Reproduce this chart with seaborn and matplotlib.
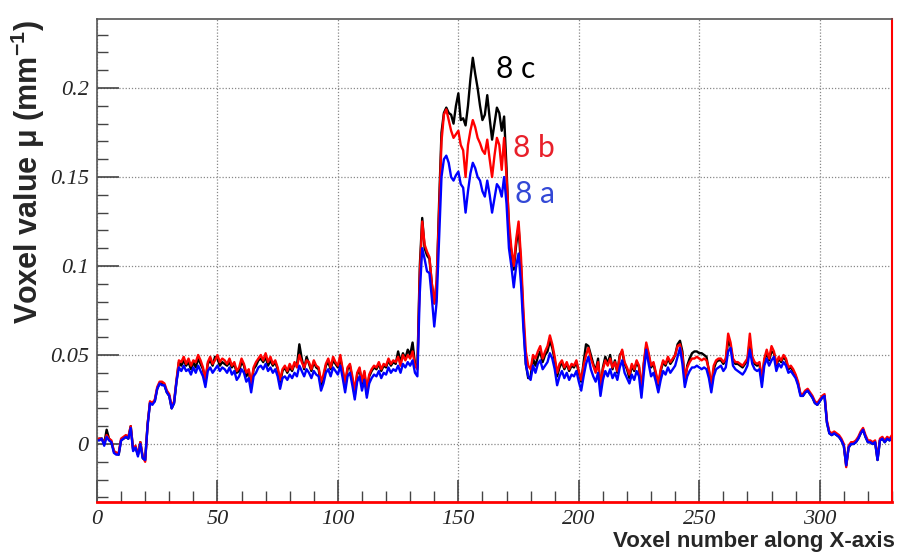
import numpy as np
import matplotlib
matplotlib.use("Agg")
import matplotlib.pyplot as plt
import seaborn as sns
from matplotlib.ticker import MultipleLocator, FuncFormatter

# voxel values, in units of 1e-3 mm^-1
# 8 a (blue)
mu_8a = [
    2, 2, 3, -1, 4, 2, 1, -5, -6, -6,
    2, 3, 4, 3, 9, -4, -2, -7, 0, -8,
    -9, 10, 23, 22, 24, 31, 34, 33, 33, 29,
    27, 20, 23, 35,
    43, 41, 44, 41, 42, 39, 43, 40, 44, 41,
    38, 32, 41, 43, 40, 42, 44, 41, 43, 42,
    40, 43, 39, 41, 36, 38, 42, 40, 35, 37,
    29, 38, 40, 43, 44, 42, 45, 41, 43, 40,
    42, 38, 31, 37, 38, 36, 39, 37, 40, 38,
    44, 41, 38, 42, 40, 37, 41, 39, 38, 30,
    34, 40, 42, 38, 43, 41, 39, 44, 37, 29,
    38, 40, 33, 25, 35, 38, 30, 36, 26, 34,
    37, 39, 38, 41, 37, 40, 39, 43, 40, 42,
    41, 44, 40, 45, 43, 46, 44, 47, 40, 38,
    85, 110, 104, 97, 96, 82, 66, 80, 115, 150,
    160, 162, 158, 150, 148, 151, 153, 146, 144, 130,
    142, 152, 158, 155, 150, 148, 142, 139, 148, 140,
    130, 138, 146, 144, 139, 150, 135, 110, 100, 88,
    100, 107, 90, 65, 45, 38, 36, 44, 40,
    45, 47, 42, 44, 46, 51, 48, 42, 33, 38,
    41, 37, 40, 36, 39, 38, 41, 35, 30, 38,
    45, 49, 42, 38, 35, 40, 27, 36, 41, 38,
    42, 37, 40, 36, 43, 47, 40, 37, 34, 39,
    36, 41, 38, 26, 40, 53, 45, 38, 40, 35,
    29, 36, 41, 39, 43, 40, 42, 44, 49, 54,
    45, 32, 38, 41, 43, 43, 44, 43, 42, 43,
    42, 37, 29, 38, 42, 43, 44, 41, 43, 52,
    54, 44, 42, 41, 40, 39, 41, 44, 53, 45,
    42, 41, 42, 32, 44, 48, 44, 47, 49, 41,
    45, 43, 46, 44, 40, 41, 39, 37, 33, 27,
    27, 29, 30, 28, 26, 23, 22, 24, 26, 27,
    12, 6, 5, 6, 5, 4, 2, -1, -12, -2,
    0, 0, 1, 3, 6, 8, 4, 1, 1, 0,
    1, -9, 2, 3, 1, 3, 2, 4,
]

# 8 b (red)
mu_8b = [
    3, 3, 3, 0, 5, 3, 2, -4, -5, -5,
    3, 4, 5, 4, 10, -3, -1, -6, 1, -7,
    -10, 11, 24, 23, 25, 32, 35, 35, 34, 30,
    28, 21, 24, 36,
    47, 46, 49, 45, 48, 44, 47, 46, 50, 47,
    43, 36, 46, 49, 45, 47, 50, 46, 48, 47,
    45, 48, 44, 46, 41, 43, 48, 45, 40, 42,
    34, 43, 46, 48, 50, 47, 51, 46, 49, 45,
    47, 43, 36, 42, 44, 41, 45, 42, 46, 43,
    50, 46, 43, 47, 46, 42, 47, 44, 43, 35,
    39, 45, 48, 43, 49, 46, 44, 50, 42, 34,
    43, 45, 38, 30, 40, 43, 35, 41, 31, 39,
    42, 44, 43, 46, 42, 45, 44, 48, 45, 47,
    46, 49, 44, 50, 47, 50, 48, 52, 44, 42,
    95, 125, 112, 108, 105, 90, 79, 92, 130, 170,
    185, 188, 182, 176, 172, 174, 176, 168, 165, 150,
    168, 176, 182, 178, 172, 169, 165, 163, 171, 160,
    150, 162, 172, 168, 154, 172, 150, 125, 110, 100,
    115, 125, 105, 75, 52, 44, 42, 50, 48,
    52, 55, 48, 52, 55, 61, 56, 49, 40, 45,
    47, 43, 46, 42, 45, 44, 47, 41, 36, 44,
    50, 54, 48, 44, 40, 46, 33, 42, 47, 44,
    48, 43, 46, 41, 49, 53, 46, 43, 39, 45,
    42, 47, 44, 31, 46, 57, 51, 44, 46, 40,
    34, 42, 47, 45, 49, 46, 48, 50, 55, 56,
    50, 37, 43, 46, 48, 48, 49, 48, 47, 48,
    47, 42, 33, 44, 47, 48, 48, 46, 48, 62,
    57, 48, 46, 46, 45, 44, 46, 48, 62, 49,
    46, 45, 46, 36, 48, 53, 48, 55, 52, 45,
    49, 47, 50, 48, 43, 44, 42, 39, 35, 28,
    28, 30, 31, 29, 27, 24, 23, 25, 27, 28,
    13, 7, 6, 7, 6, 5, 3, 0, -13, -1,
    1, 1, 2, 4, 7, 9, 5, 2, 2, 1,
    2, -8, 3, 4, 2, 4, 3, 5,
]

# 8 c (black)
mu_8c = [
    2, 3, 3, 0, 8, 3, 1, -4, -5, -6,
    2, 3, 4, 3, 10, -3, -2, -6, 1, -8,
    -9, 11, 23, 23, 24, 31, 34, 34, 33, 29,
    27, 20, 23, 35,
    46, 44, 47, 44, 46, 42, 46, 43, 48, 45,
    42, 35, 45, 47, 44, 49, 48, 44, 46, 45,
    44, 46, 43, 45, 40, 41, 46, 44, 38, 41,
    32, 42, 44, 47, 48, 46, 49, 44, 47, 44,
    46, 42, 34, 41, 43, 40, 43, 41, 45, 44,
    56, 48, 42, 49, 45, 41, 46, 43, 42, 33,
    37, 44, 46, 42, 47, 45, 43, 48, 41, 32,
    42, 44, 36, 27, 39, 42, 33, 40, 28, 38,
    41, 43, 42, 45, 41, 44, 43, 47, 44, 46,
    45, 52, 46, 51, 48, 53, 50, 57, 45, 43,
    100, 127, 110, 106, 104, 90, 79, 90, 135, 175,
    186, 189, 186, 185, 180, 190, 197, 182, 183, 179,
    190, 205, 217, 208, 200, 190, 182, 185, 196, 183,
    171, 180, 189, 186, 176, 184, 155, 120, 108, 98,
    112, 122, 100, 70, 45, 37, 38, 48, 44,
    49, 52, 46, 50, 52, 58, 54, 47, 38, 43,
    46, 42, 45, 41, 44, 43, 46, 40, 35, 46,
    56, 55, 50, 45, 41, 48, 31, 43, 49, 45,
    50, 42, 47, 40, 50, 52, 45, 42, 37, 44,
    41, 46, 43, 29, 45, 55, 50, 43, 45, 39,
    32, 41, 46, 44, 48, 45, 47, 50, 56, 58,
    52, 35, 44, 48, 51, 52, 52, 51, 51, 50,
    49, 41, 31, 42, 46, 47, 47, 45, 47, 58,
    55, 47, 45, 45, 44, 43, 45, 47, 58, 48,
    45, 44, 45, 35, 47, 51, 47, 52, 51, 44,
    48, 46, 49, 47, 42, 43, 41, 38, 34, 28,
    27, 29, 30, 28, 26, 23, 22, 24, 26, 27,
    12, 6, 5, 6, 5, 4, 2, -1, -12, -2,
    0, 0, 1, 3, 6, 8, 4, 1, 1, 0,
    1, -9, 2, 3, 1, 3, 2, 4,
]

series_labels = ["8 c", "8 b", "8 a"]

sns.set_style("white")
plt.rcParams['font.family'] = ['Liberation Sans', 'DejaVu Sans']

fig = plt.figure(figsize=(8.98, 5.55), dpi=100)
ax = fig.add_axes([0.108, 0.0955, 0.8853, 0.8703])

for data, col in [(mu_8c, "black"), (mu_8b, "red"), (mu_8a, "blue")]:
    y = np.array(data) / 1000.0
    sns.lineplot(x=np.arange(len(y)), y=y, color=col, linewidth=1.7, ax=ax)

ax.set_xlim(0, 330)
ax.set_ylim(-0.0326, 0.2388)

ax.xaxis.set_major_locator(MultipleLocator(50))
ax.xaxis.set_minor_locator(MultipleLocator(10))
ax.yaxis.set_major_locator(MultipleLocator(0.05))
ax.yaxis.set_minor_locator(MultipleLocator(0.01))
ax.yaxis.set_major_formatter(FuncFormatter(lambda v, p: "%g" % round(v, 3)))
ax.xaxis.set_major_formatter(FuncFormatter(lambda v, p: "%g" % v))

ax.tick_params(which="major", direction="in", length=16, width=1.2, color="#444",
               left=True, bottom=True, top=False, right=False, pad=6)
ax.tick_params(which="minor", direction="in", length=8, width=1.0, color="#444",
               left=True, bottom=True, top=False, right=False)
for lab in ax.get_xticklabels() + ax.get_yticklabels():
    lab.set_family("Liberation Serif")
    lab.set_style("italic")
    lab.set_fontsize(16)

ax.grid(True, which="major", linestyle=(0, (1, 1.5)), color="#888", linewidth=0.9)
ax.set_axisbelow(True)

for side in ["left", "top"]:
    ax.spines[side].set_color("#555")
    ax.spines[side].set_linewidth(1.2)
ax.spines["bottom"].set_color("red")
ax.spines["bottom"].set_linewidth(2)
ax.spines["right"].set_color("red")
ax.spines["right"].set_linewidth(1.5)

ax.set_xlabel("")
ax.set_ylabel("")

# curve tags
ax.text(165.7, 0.2107, series_labels[0], color="black", fontsize=21.5, family="Lato", va="center")
ax.text(172.7, 0.1663, series_labels[1], color="#e8202a", fontsize=21.5, family="Lato", va="center")
ax.text(173.6, 0.1404, series_labels[2], color="#3348d6", fontsize=21.5, family="Lato", va="center")

fig.text(0.031, 0.69, "Voxel value μ (mm$^{\\mathregular{-1}}$)", rotation=90,
         fontsize=22, fontweight="bold", ha="center", va="center")
fig.text(0.997, 0.025, "Voxel number along X-axis", fontsize=16, fontweight="bold",
         ha="right", va="center")

fig.savefig("out.png", dpi=100)
